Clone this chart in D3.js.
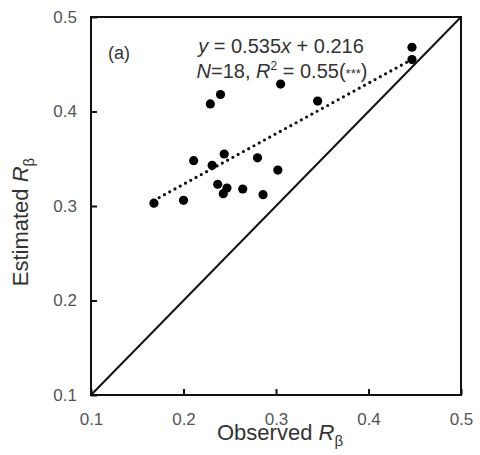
<!DOCTYPE html>
<html>
<head>
<meta charset="utf-8">
<script src="https://cdn.jsdelivr.net/npm/d3@7"></script>
<style>
  body { margin: 0; background: #fff; }
  svg { display: block; font-family: "Liberation Sans", Arial, sans-serif; }
</style>
</head>
<body>
<svg width="480" height="455"></svg>
<script>
'use strict'

// observed vs estimated R_beta
const observed = [0.447, 0.447, 0.305, 0.240, 0.229, 0.345, 0.211, 0.244, 0.231, 0.280,
  0.302, 0.237, 0.247, 0.243, 0.264, 0.286, 0.200, 0.168];
const estimated = [0.468, 0.455, 0.429, 0.418, 0.408, 0.411, 0.348, 0.355, 0.343, 0.351,
  0.338, 0.323, 0.319, 0.313, 0.318, 0.312, 0.306, 0.303];
const ticks = [0.1, 0.2, 0.3, 0.4, 0.5];
const slope = 0.535;
const intercept = 0.216;

const svg = d3.select('svg');

const x = d3.scaleLinear().domain([0.1, 0.5]).range([91, 461]);
const y = d3.scaleLinear().domain([0.1, 0.5]).range([395, 17]);

// frame
svg.append('rect')
  .attr('x', x(0.1)).attr('y', y(0.5))
  .attr('width', x(0.5) - x(0.1)).attr('height', y(0.1) - y(0.5))
  .attr('fill', 'none').attr('stroke', '#111').attr('stroke-width', 2);

// inward ticks
const xAxis = svg.append('g')
  .attr('transform', `translate(0,${y(0.1)})`)
  .call(d3.axisBottom(x).tickValues(ticks).tickSizeInner(-6).tickSizeOuter(0).tickFormat(d3.format('.1f')).tickPadding(18));
const yAxis = svg.append('g')
  .attr('transform', `translate(${x(0.1)},0)`)
  .call(d3.axisLeft(y).tickValues(ticks).tickSizeInner(-6).tickSizeOuter(0).tickFormat(d3.format('.1f')).tickPadding(14));

[xAxis, yAxis].forEach(g => {
  g.select('.domain').remove();
  g.selectAll('.tick line').attr('stroke', '#111').attr('stroke-width', 2);
  g.selectAll('.tick text').attr('fill', '#555').style('font-size', '17px').style('font-family', '"Liberation Sans", Arial, sans-serif');
});

// 1:1 line
svg.append('line')
  .attr('x1', x(0.1)).attr('y1', y(0.1))
  .attr('x2', x(0.5)).attr('y2', y(0.5))
  .attr('stroke', '#111').attr('stroke-width', 2);

// regression line
const x0 = d3.min(observed), x1 = d3.max(observed);
svg.append('line')
  .attr('x1', x(x0)).attr('y1', y(slope * x0 + intercept))
  .attr('x2', x(x1)).attr('y2', y(slope * x1 + intercept))
  .attr('stroke', '#111').attr('stroke-width', 3.2)
  .attr('stroke-linecap', 'round').attr('stroke-dasharray', '0 6');

// points
svg.selectAll('circle')
  .data(observed)
  .join('circle')
  .attr('cx', d => x(d))
  .attr('cy', (d, i) => y(estimated[i]))
  .attr('r', 4.6)
  .attr('fill', '#000');

// annotations
svg.append('text')
  .attr('x', 108).attr('y', 59)
  .attr('fill', '#333').style('font-size', '18px')
  .text('(a)');

const eq1 = svg.append('text')
  .attr('x', 281).attr('y', 53)
  .attr('text-anchor', 'middle')
  .attr('fill', '#333').style('font-size', '20px');
eq1.append('tspan').attr('font-style', 'italic').text('y');
eq1.append('tspan').text(` = ${slope}`);
eq1.append('tspan').attr('font-style', 'italic').text('x');
eq1.append('tspan').text(` + ${intercept}`);

const eq2 = svg.append('text')
  .attr('x', 282).attr('y', 78)
  .attr('text-anchor', 'middle')
  .attr('fill', '#333').style('font-size', '20px');
eq2.append('tspan').attr('font-style', 'italic').text('N');
eq2.append('tspan').text(`=${observed.length}, `);
eq2.append('tspan').attr('font-style', 'italic').text('R');
eq2.append('tspan').style('font-size', '12px').attr('dy', -8).text('2');
eq2.append('tspan').attr('dy', 8).text(' = 0.55(');
eq2.append('tspan').style('font-size', '13px').text('***');
eq2.append('tspan').text(')');

// axis titles
const xt = svg.append('text')
  .attr('x', 280).attr('y', 440)
  .attr('text-anchor', 'middle')
  .attr('fill', '#333').style('font-size', '22px');
xt.append('tspan').text('Observed ');
xt.append('tspan').attr('font-style', 'italic').text('R');
xt.append('tspan').style('font-size', '15px').attr('dy', 6).text('β');

const yt = svg.append('text')
  .attr('transform', 'translate(28,222) rotate(-90)')
  .attr('text-anchor', 'middle')
  .attr('fill', '#333').style('font-size', '22px');
yt.append('tspan').text('Estimated ');
yt.append('tspan').attr('font-style', 'italic').text('R');
yt.append('tspan').style('font-size', '15px').attr('dy', 6).text('β');
</script>
</body>
</html>
